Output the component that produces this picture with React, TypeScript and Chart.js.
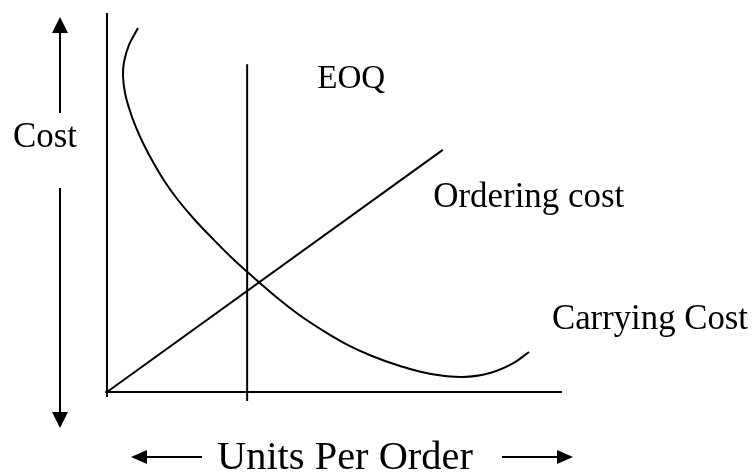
import React, { useEffect, useRef } from "react";
import { Chart, registerables } from "chart.js";

Chart.register(...registerables);

// ---- data (chart units: x 0..100 = units per order, y 0..100 = cost) ----
const carryingX = [6.81, 4.84, 3.74, 3.52, 3.96, 4.84, 6.15, 7.91, 10.11, 12.75, 15.6, 19.12, 23.08, 27.47, 32.09, 36.92, 41.98, 47.25, 52.53, 58.24, 64.4, 71.21, 78.24, 84.18, 89.01, 92.75];
const carryingY = [96.04, 91.56, 87.07, 83.38, 78.89, 74.93, 70.45, 65.7, 60.69, 55.41, 50.66, 45.65, 40.63, 35.36, 30.34, 25.33, 20.58, 16.36, 12.66, 9.5, 6.86, 4.75, 3.96, 5.01, 7.39, 10.55];
const orderingX = [0, 73.8];
const orderingY = [0, 63.9];
const eoqX = [30.8, 30.8];
const eoqY = [-2.4, 86.5];
const xAxisX = [-0.4, 100];
const xAxisY = [0, 0];
const yAxisX = [0, 0];
const yAxisY = [-1.3, 100];
const labelTexts = ["EOQ", "Ordering cost", "Carrying Cost"];
const yTitle = "Cost";
const xTitle = "Units Per Order";

const pts = (xs: number[], ys: number[]) => xs.map((x, i) => ({ x, y: ys[i] }));

const FONT = '"Liberation Serif", "Times New Roman", serif';

function fitText(ctx: CanvasRenderingContext2D, text: string, left: number, baseline: number, width: number) {
  ctx.font = `100px ${FONT}`;
  const w = ctx.measureText(text).width;
  const size = (100 * width) / w;
  ctx.font = `${size}px ${FONT}`;
  ctx.textAlign = "left";
  ctx.textBaseline = "alphabetic";
  ctx.fillText(text, left, baseline);
}

function arrow(ctx: CanvasRenderingContext2D, x1: number, y1: number, x2: number, y2: number, headLen: number, headW: number) {
  const ang = Math.atan2(y2 - y1, x2 - x1);
  const bx = x2 - headLen * Math.cos(ang);
  const by = y2 - headLen * Math.sin(ang);
  ctx.beginPath();
  ctx.moveTo(x1, y1);
  ctx.lineTo(bx, by);
  ctx.lineWidth = 2;
  ctx.stroke();
  const nx = -Math.sin(ang) * headW / 2;
  const ny = Math.cos(ang) * headW / 2;
  ctx.beginPath();
  ctx.moveTo(x2, y2);
  ctx.lineTo(bx + nx, by + ny);
  ctx.lineTo(bx - nx, by - ny);
  ctx.closePath();
  ctx.fill();
}

const decorPlugin = {
  id: "decor",
  afterDraw(chart: any) {
    const ctx: CanvasRenderingContext2D = chart.ctx;
    const xs = chart.scales.x;
    const ys = chart.scales.y;
    ctx.save();
    ctx.fillStyle = "#000";
    ctx.strokeStyle = "#000";
    // in-plot labels (data-anchored)
    const labelPos = [
      { x: 46.2, y: 80.2, w: 68 },
      { x: 71.7, y: 48.8, w: 191 },
      { x: 97.8, y: 16.6, w: 196 },
    ];
    labelTexts.forEach((t, i) => {
      const p = labelPos[i];
      fitText(ctx, t, xs.getPixelForValue(p.x), ys.getPixelForValue(p.y), p.w);
    });
    // axis titles
    fitText(ctx, yTitle, 13, 147, 64);
    fitText(ctx, xTitle, 217, 469, 256);
    // arrows
    arrow(ctx, 60, 113, 60, 17, 16, 16);
    arrow(ctx, 60, 188, 60, 428, 16, 16);
    arrow(ctx, 202, 457, 131, 457, 16, 14);
    arrow(ctx, 502, 457, 573, 457, 16, 14);
    ctx.restore();
  },
};

export default function App() {
  const ref = useRef<HTMLCanvasElement | null>(null);
  useEffect(() => {
    if (!ref.current) return;
    const lineDs = (data: any[], width: number, tension = 0) => ({
      data,
      showLine: true,
      borderColor: "#000",
      backgroundColor: "#000",
      borderWidth: width,
      pointRadius: 0,
      tension,
      clip: false as any,
      fill: false,
    });
    const chart = new Chart(ref.current, {
      type: "scatter",
      data: {
        datasets: [
          lineDs(pts(yAxisX, yAxisY), 2),
          lineDs(pts(xAxisX, xAxisY), 2),
          lineDs(pts(eoqX, eoqY), 2),
          lineDs(pts(orderingX, orderingY), 2),
          lineDs(pts(carryingX, carryingY), 2, 0.4),
        ],
      },
      options: {
        responsive: false,
        animation: false,
        layout: { padding: { left: 107, right: 192, top: 13, bottom: 81 } },
        scales: {
          x: { type: "linear", min: 0, max: 100, display: false },
          y: { type: "linear", min: 0, max: 100, display: false },
        },
        plugins: { legend: { display: false }, tooltip: { enabled: false } },
        events: [],
      },
      plugins: [decorPlugin],
    });
    return () => chart.destroy();
  }, []);
  return (
    <div style={{ position: "fixed", left: 0, top: 0, width: 754, height: 473, background: "#fff" }}>
      <canvas ref={ref} width={754} height={473} style={{ width: 754, height: 473, display: "block" }} />
    </div>
  );
}
